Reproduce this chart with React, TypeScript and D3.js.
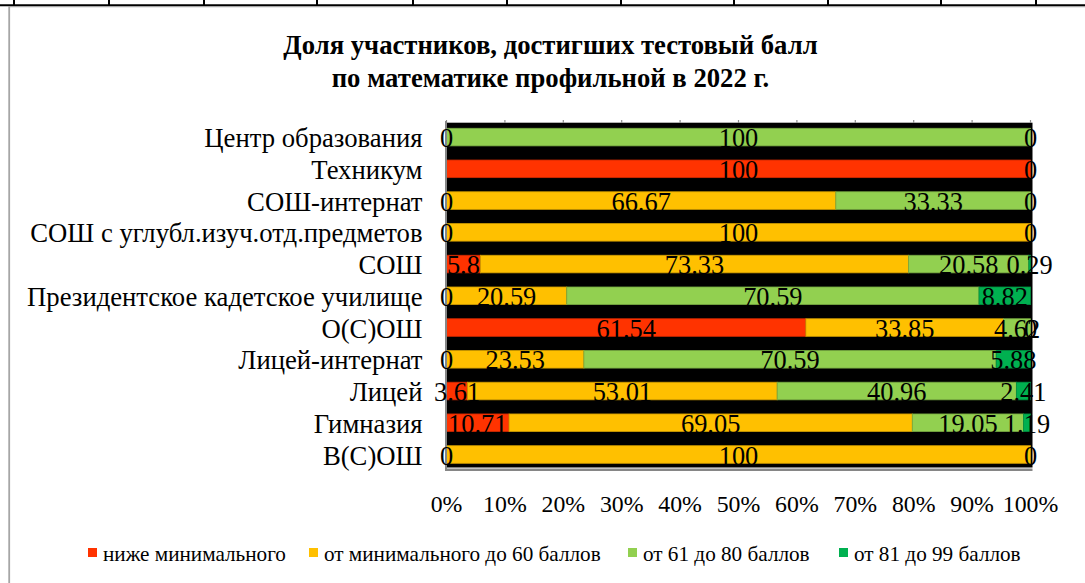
import React from "react";
import * as d3 from "d3";

const categories = [
  "Центр образования",
  "Техникум",
  "СОШ-интернат",
  "СОШ с углубл.изуч.отд.предметов",
  "СОШ",
  "Президентское кадетское училище",
  "О(С)ОШ",
  "Лицей-интернат",
  "Лицей",
  "Гимназия",
  "В(С)ОШ",
];
const seriesNames = [
  "ниже минимального",
  "от минимального до 60 баллов",
  "от 61 до 80 баллов",
  "от 81 до 99 баллов",
];
const belowMin: (number | null)[] = [0, 100, 0, 0, 5.8, 0, 61.54, 0, 3.61, 10.71, 0];
const minTo60: (number | null)[] = [null, null, 66.67, 100, 73.33, 20.59, 33.85, 23.53, 53.01, 69.05, 100];
const from61to80: (number | null)[] = [100, null, 33.33, null, 20.58, 70.59, 4.62, 70.59, 40.96, 19.05, null];
const from81to99: (number | null)[] = [0, 0, 0, 0, 0.29, 8.82, 0, 5.88, 2.41, 1.19, 0];
const xTicks = [0, 10, 20, 30, 40, 50, 60, 70, 80, 90, 100];
const colors = ["#FF3300", "#FFC000", "#92D050", "#00B050"];
const titleLines = ["Доля участников, достигших тестовый балл", "по математике профильной в 2022 г."];
const tableLineXs = [14, 109, 204, 317, 413, 507, 621, 734, 828, 941, 1036];

const W = 1085;
const H = 583;
const FONT = "'Liberation Serif', 'Times New Roman', serif";

export default function App() {
  const allSeries = [belowMin, minTo60, from61to80, from81to99];
  const keys = ["s0", "s1", "s2", "s3"];
  const table = categories.map((c, i) => {
    const row: any = { cat: c };
    keys.forEach((k, j) => (row[k] = allSeries[j][i]));
    return row;
  });
  const stacked = d3
    .stack<any>()
    .keys(keys)
    .value((d, k) => (d[k] == null ? 0 : d[k]))(table);

  const x = d3.scaleLinear().domain([0, 100]).range([446.5, 1030.5]);
  const y = d3
    .scaleBand<string>()
    .domain(categories)
    .range([122.7, 468.9])
    .paddingInner(0.445)
    .paddingOuter(0.176);
  const bw = y.bandwidth();

  return (
    <svg width={W} height={H} style={{ position: "absolute", left: 0, top: 0 }} fontFamily={FONT}>
      <rect x={0} y={0} width={W} height={H} fill="#fff" />
      {/* table decoration at top */}
      <line x1={0} x2={W} y1={5.3} y2={5.3} stroke="#000" strokeWidth={2} />
      {tableLineXs.map((lx, i) => (
        <line key={i} x1={lx} x2={lx} y1={0} y2={5} stroke="#000" strokeWidth={2} />
      ))}
      {/* chart border */}
      <line x1={9.2} x2={9.2} y1={6} y2={H} stroke="#a6a6a6" strokeWidth={1.8} />
      <line x1={9} x2={W} y1={6.6} y2={6.6} stroke="#a6a6a6" strokeWidth={1.2} />

      {/* title */}
      {titleLines.map((t, i) => (
        <text key={i} x={550.5} y={54 + i * 33} textAnchor="middle" fontSize={26.7} fontWeight="bold">
          {t}
        </text>
      ))}

      {/* plot background */}
      <rect x={446} y={122.7} width={586.5} height={344.8} fill="#000" />
      {/* top ticks */}
      {xTicks.map((t) => (
        <line key={t} x1={x(t)} x2={x(t)} y1={120} y2={123} stroke="#8c8c8c" strokeWidth={1.2} />
      ))}

      {/* bars */}
      {stacked.map((s, j) => (
        <g key={s.key}>
          {s.map((d, i) => {
            const w = x(d[1]) - x(d[0]);
            if (w <= 0) return null;
            return (
              <rect
                key={i}
                x={x(d[0])}
                y={y(categories[i])!}
                width={w}
                height={bw}
                fill={colors[j]}
                stroke={d3.color(colors[j])!.darker(0.6).formatHex()}
                strokeWidth={0.8}
              />
            );
          })}
        </g>
      ))}

      {/* axes lines */}
      <line x1={446} x2={446} y1={121} y2={471} stroke="#868686" strokeWidth={2} />
      <line x1={445} x2={1032.5} y1={469.8} y2={469.8} stroke="#868686" strokeWidth={2.4} />

      {/* data labels */}
      {stacked.map((s, j) => (
        <g key={"l" + s.key}>
          {s.map((d, i) => {
            const v = allSeries[j][i];
            if (v == null) return null;
            return (
              <text
                key={i}
                x={x((d[0] + d[1]) / 2)}
                y={y(categories[i])! + bw + 1.2}
                textAnchor="middle"
                fontSize={26.4}
                fill="#000"
              >
                {String(v)}
              </text>
            );
          })}
        </g>
      ))}

      {/* category labels */}
      {categories.map((c) => (
        <text key={c} x={422.5} y={y(c)! + bw + 1.2} textAnchor="end" fontSize={26.7} fill="#000">
          {c}
        </text>
      ))}

      {/* x tick labels */}
      {xTicks.map((t) => (
        <text key={t} x={x(t)} y={511.5} textAnchor="middle" fontSize={23.8} fill="#000">
          {t + "%"}
        </text>
      ))}

      {/* legend */}
      {seriesNames.map((n, j) => {
        const lx = [88, 309, 628, 839][j];
        return (
          <g key={n}>
            <rect x={lx} y={548} width={9} height={9} fill={colors[j]} />
            <text x={lx + 15} y={561} fontSize={21.2} fill="#000">
              {n}
            </text>
          </g>
        );
      })}
    </svg>
  );
}
